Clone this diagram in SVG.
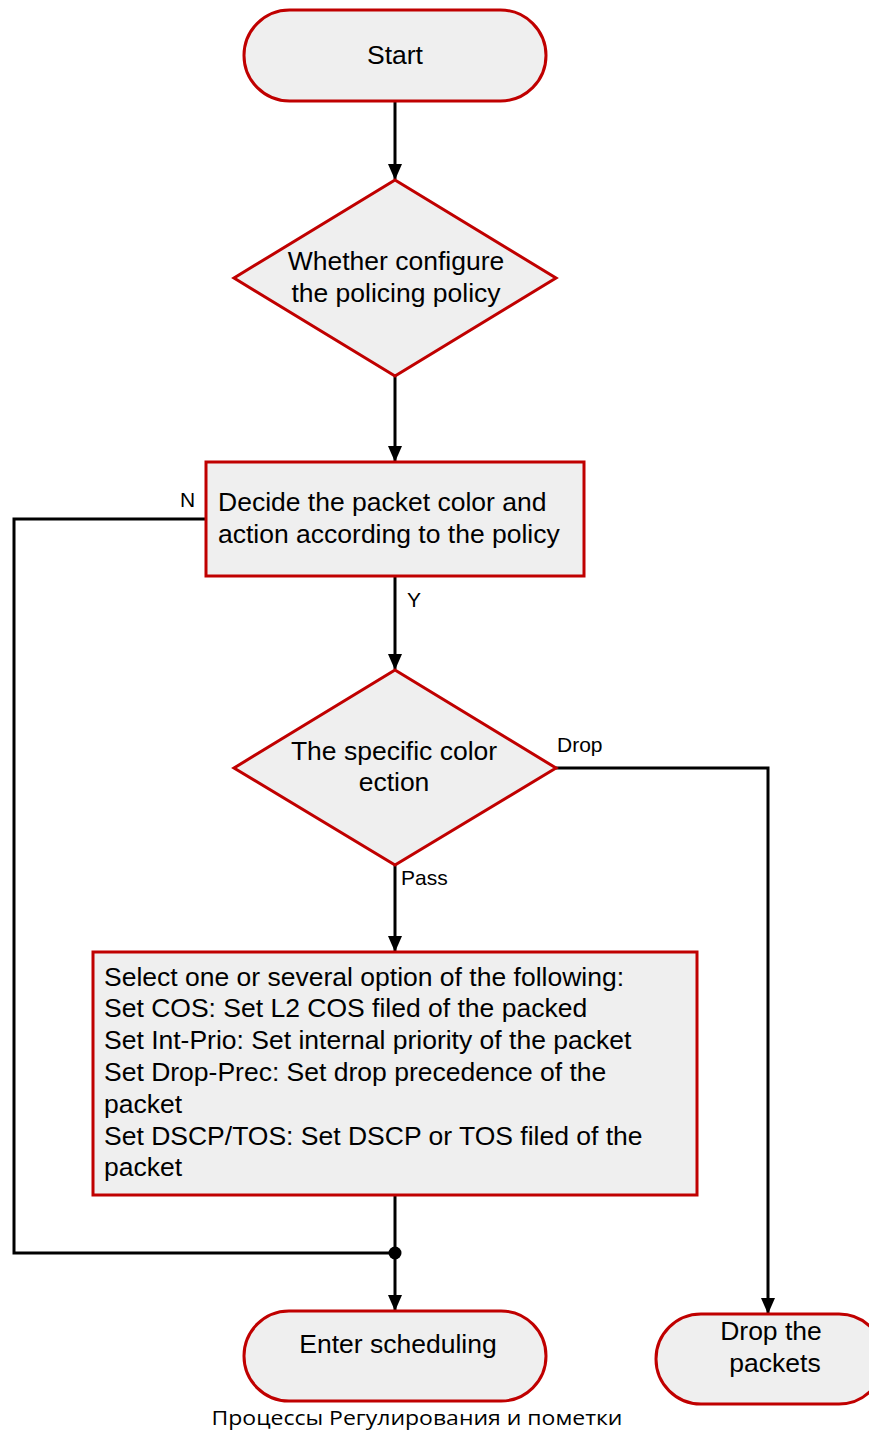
<svg xmlns="http://www.w3.org/2000/svg" width="869" height="1431" viewBox="0 0 869 1431">
<style>
.n{fill:#efefef;stroke:#c00000;stroke-width:3}
.t{font-family:"Liberation Sans",Arial,sans-serif;font-size:26.5px;fill:#000}
.c{text-anchor:middle}
.l{font-family:"Liberation Sans",Arial,sans-serif;font-size:21px;fill:#000}
.e{fill:none;stroke:#000;stroke-width:3}
</style>
<defs>
<marker id="a" markerWidth="16" markerHeight="16" refX="15" refY="7" orient="auto" markerUnits="userSpaceOnUse" viewBox="0 0 16 14">
<path d="M0,0 L16,7 L0,14 z" fill="#000"/>
</marker>
</defs>
<rect width="869" height="1431" fill="#fff"/>
<g id="connectors">
<line class="e" x1="395" y1="101" x2="395" y2="179" marker-end="url(#a)"/>
<line class="e" x1="395" y1="376" x2="395" y2="461" marker-end="url(#a)"/>
<line class="e" x1="395" y1="576" x2="395" y2="669" marker-end="url(#a)"/>
<line class="e" x1="395" y1="865" x2="395" y2="951" marker-end="url(#a)"/>
<polyline class="e" points="206,519 14,519 14,1253 395,1253"/>
<line class="e" x1="395" y1="1195" x2="395" y2="1310" marker-end="url(#a)"/>
<circle cx="395" cy="1253" r="6.5" fill="#000"/>
<polyline class="e" points="556,768 768,768 768,1313" marker-end="url(#a)"/>
<text class="l" x="180" y="507">N</text>
<text class="l" x="407" y="607">Y</text>
<text class="l" x="557" y="752">Drop</text>
<text class="l" x="401" y="885">Pass</text>
</g>
<g id="start">
<rect class="n" x="244" y="10" width="302" height="91" rx="45.5"/>
<text class="t c" x="395" y="64">Start</text>
</g>
<g id="decision1">
<polygon class="n" points="395,180 556,278 395,376 234,278"/>
<text class="t c" x="396" y="270">Whether configure</text>
<text class="t c" x="396" y="302">the policing policy</text>
</g>
<g id="decide">
<rect class="n" x="206" y="462" width="378" height="114"/>
<text class="t" x="218" y="511">Decide the packet color and</text>
<text class="t" x="218" y="543">action according to the policy</text>
</g>
<g id="decision2">
<polygon class="n" points="395,670 556,768 395,865 234,768"/>
<text class="t c" x="394" y="760">The specific color</text>
<text class="t c" x="394" y="791">ection</text>
</g>
<g id="select">
<rect class="n" x="93" y="952" width="604" height="243"/>
<text class="t" x="104" y="986">Select one or several option of the following:</text>
<text class="t" x="104" y="1017">Set COS: Set L2 COS filed of the packed</text>
<text class="t" x="104" y="1049">Set Int-Prio: Set internal priority of the packet</text>
<text class="t" x="104" y="1081">Set Drop-Prec: Set drop precedence of the</text>
<text class="t" x="104" y="1113">packet</text>
<text class="t" x="104" y="1145">Set DSCP/TOS: Set DSCP or TOS filed of the</text>
<text class="t" x="104" y="1176">packet</text>
</g>
<g id="enter">
<rect class="n" x="244" y="1311" width="302" height="90" rx="45"/>
<text class="t c" x="398" y="1353">Enter scheduling</text>
</g>
<g id="drop">
<rect class="n" x="656" y="1314" width="228" height="90" rx="45"/>
<text class="t c" x="771" y="1340">Drop the</text>
<text class="t c" x="775" y="1372">packets</text>
</g>
<text x="417" y="1425" text-anchor="middle" font-family="'Open Sans','Noto Sans',sans-serif" font-size="20" textLength="411" lengthAdjust="spacingAndGlyphs">Процессы Регулирования и пометки</text>
</svg>
